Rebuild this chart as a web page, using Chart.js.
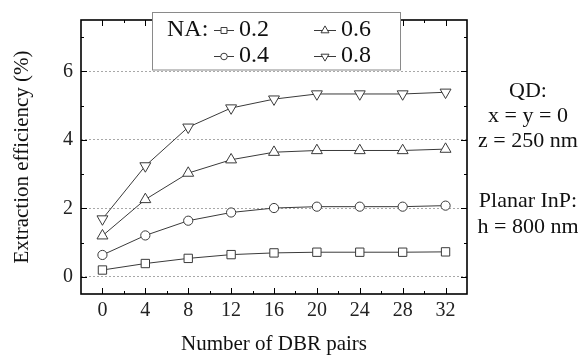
<!DOCTYPE html>
<html>
<head>
<meta charset="utf-8">
<title>Extraction efficiency vs DBR pairs</title>
<script src="https://cdn.jsdelivr.net/npm/chart.js@4.4.1/dist/chart.umd.min.js"></script>
<style>
  html, body { margin: 0; padding: 0; background: #fff; }
  #wrap { width: 578px; height: 362px; }
</style>
</head>
<body>
<div id="wrap"><canvas id="chart" width="578" height="362"></canvas></div>
<script>
/* ------------------- DATA ------------------- */
const dbrPairs = [0, 4, 8, 12, 16, 20, 24, 28, 32];
const na02 = [0.20, 0.39, 0.54, 0.65, 0.70, 0.72, 0.72, 0.72, 0.73];
const na04 = [0.64, 1.21, 1.64, 1.88, 2.01, 2.05, 2.05, 2.05, 2.08];
const na06 = [1.20, 2.26, 3.03, 3.42, 3.64, 3.69, 3.69, 3.69, 3.73];
const na08 = [1.69, 3.24, 4.37, 4.93, 5.19, 5.34, 5.34, 5.34, 5.39];
const naLabels = ["0.2", "0.4", "0.6", "0.8"];
const xTickLabels = [0, 4, 8, 12, 16, 20, 24, 28, 32];
const yTickLabels = [0, 2, 4, 6];
const noteLines = ["QD:", "x = y = 0", "z = 250 nm", "Planar InP:", "h = 800 nm"];

/* ------------------- STYLE ------------------- */
const SERIF = "'Liberation Serif', 'Times New Roman', serif";
const LINE = "#3a3a3a";
const NOTE_Y = [91, 116, 141, 201, 227];

// minor ticks sit half way between labelled ones
const xMinor = xTickLabels.slice(1).map((v, i) => (v + xTickLabels[i]) / 2);
const yMinor = yTickLabels.map(v => v + 1);

function series(label, values, style, radius, rotation) {
  return {
    label: label,
    data: dbrPairs.map((x, i) => ({ x: x, y: values[i] })),
    borderColor: LINE,
    borderWidth: 1,
    backgroundColor: "#fff",
    pointStyle: style,
    pointRadius: radius,
    pointRotation: rotation || 0,
    pointBorderColor: LINE,
    pointBackgroundColor: "#fff",
    pointBorderWidth: 1,
    tension: 0
  };
}

/* ------------------- PLUGINS ------------------- */
// box around plot with inward ticks on every side
const framePlugin = {
  id: "frame",
  afterDraw(chart) {
    const { ctx, chartArea: a, scales: { x, y } } = chart;
    ctx.save();
    ctx.strokeStyle = "#000";
    ctx.lineWidth = 1;
    const tick = (x1, y1, x2, y2) => { ctx.beginPath(); ctx.moveTo(x1, y1); ctx.lineTo(x2, y2); ctx.stroke(); };
    xTickLabels.concat(xMinor).forEach(v => {
      const px = Math.round(x.getPixelForValue(v)) + 0.5;
      const len = xTickLabels.includes(v) ? 6 : 3;
      tick(px, a.bottom, px, a.bottom - len);
      tick(px, a.top, px, a.top + len);
    });
    yTickLabels.concat(yMinor).forEach(v => {
      const py = Math.round(y.getPixelForValue(v)) + 0.5;
      const len = yTickLabels.includes(v) ? 6 : 3;
      tick(a.left, py, a.left + len, py);
      tick(a.right, py, a.right - len, py);
    });
    ctx.lineWidth = 1.6;
    ctx.strokeRect(a.left, a.top, a.right - a.left, a.bottom - a.top);
    ctx.restore();
  }
};

// "NA:" legend in a 2x2 layout
const legendPlugin = {
  id: "naLegend",
  afterDraw(chart) {
    const { ctx } = chart;
    ctx.save();
    ctx.fillStyle = "#fff";
    ctx.fillRect(152, 12.5, 249, 57.5);
    ctx.strokeStyle = "#8a8a8a";
    ctx.lineWidth = 1;
    ctx.strokeRect(152.5, 12.5, 248, 57.5);
    ctx.font = "24px " + SERIF;
    ctx.fillStyle = "#111";
    ctx.textBaseline = "middle";
    ctx.textAlign = "left";
    ctx.fillText("NA:", 167, 30);
    const cols = [{ x0: 214, x1: 234 }, { x0: 314, x1: 336 }];
    const rows = [30, 56];
    const smallR = [4.2, 3.3, 4.6, 4.6];
    chart.data.datasets.forEach((ds, i) => {
      const c = cols[Math.floor(i / 2)];
      const yy = rows[i % 2];
      ctx.strokeStyle = LINE;
      ctx.lineWidth = 1;
      ctx.beginPath();
      ctx.moveTo(c.x0, yy + 0.5);
      ctx.lineTo(c.x1, yy + 0.5);
      ctx.stroke();
      ctx.fillStyle = "#fff";
      Chart.helpers.drawPoint(ctx, {
        pointStyle: ds.pointStyle,
        rotation: ds.pointRotation,
        radius: smallR[i],
        borderWidth: 1
      }, (c.x0 + c.x1) / 2, yy + 0.5);
      ctx.fillStyle = "#111";
      ctx.fillText(naLabels[i], c.x1 + 5, yy);
    });
    ctx.restore();
  }
};

// QD / substrate notes on the right
const notePlugin = {
  id: "notes",
  afterDraw(chart) {
    const { ctx } = chart;
    ctx.save();
    ctx.font = "22px " + SERIF;
    ctx.fillStyle = "#111";
    ctx.textAlign = "center";
    ctx.textBaseline = "middle";
    noteLines.forEach((t, i) => ctx.fillText(t, 528, NOTE_Y[i]));
    ctx.restore();
  }
};

/* ------------------- CHART ------------------- */
new Chart(document.getElementById("chart"), {
  type: "line",
  data: {
    datasets: [
      series(naLabels[0], na02, "rect", 5.9),
      series(naLabels[1], na04, "circle", 4.6),
      series(naLabels[2], na06, "triangle", 6.3),
      series(naLabels[3], na08, "triangle", 6.3, 180)
    ]
  },
  options: {
    responsive: false,
    animation: false,
    devicePixelRatio: 1,
    layout: { padding: { top: 4, right: 111, left: 0, bottom: 0 } },
    plugins: { legend: { display: false }, tooltip: { enabled: false } },
    scales: {
      x: {
        type: "linear",
        min: -2,
        max: 34,
        afterBuildTicks: s => { s.ticks = xTickLabels.concat(xMinor).sort((a, b) => a - b).map(v => ({ value: v })); },
        afterFit: s => { s.height = 68; },
        grid: { display: false, drawTicks: false },
        border: { display: false },
        ticks: {
          autoSkip: false,
          maxRotation: 0,
          padding: 5,
          color: "#222",
          font: { family: SERIF, size: 20 },
          callback: v => xTickLabels.includes(v) ? String(v) : ""
        },
        title: {
          display: true,
          text: "Number of DBR pairs",
          color: "#111",
          font: { family: SERIF, size: 21 },
          padding: { top: 0, bottom: 5 }
        }
      },
      y: {
        min: -0.5,
        max: 7.5,
        afterBuildTicks: s => { s.ticks = yTickLabels.concat(yMinor).sort((a, b) => a - b).map(v => ({ value: v })); },
        afterFit: s => { s.width = 81; },
        grid: {
          drawTicks: false,
          color: c => yTickLabels.includes(c.tick.value) ? "#a8a8a8" : "rgba(0,0,0,0)",
          lineWidth: 1,
          tickBorderDash: [2, 2]
        },
        border: { display: false, dash: [2, 2] },
        ticks: {
          padding: 8,
          color: "#222",
          font: { family: SERIF, size: 20 },
          callback: v => yTickLabels.includes(v) ? String(v) : ""
        },
        title: {
          display: true,
          text: "Extraction efficiency (%)",
          color: "#111",
          font: { family: SERIF, size: 21 },
          padding: { top: 10, bottom: 0 }
        }
      }
    }
  },
  plugins: [framePlugin, legendPlugin, notePlugin]
});
</script>
</body>
</html>
